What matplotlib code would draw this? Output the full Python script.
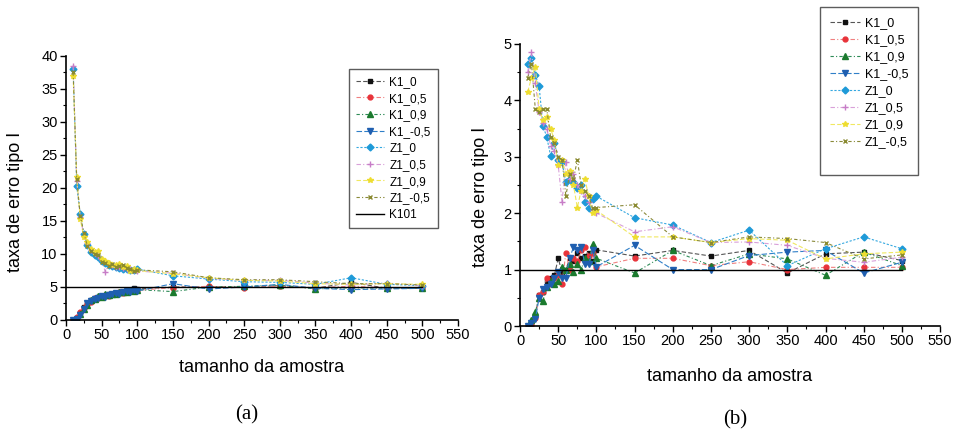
import matplotlib
matplotlib.use("Agg")
import matplotlib.pyplot as plt
from matplotlib.lines import Line2D
from matplotlib.ticker import MultipleLocator

plt.rcParams['font.family'] = ['Liberation Sans', 'DejaVu Sans']

# sample sizes
n = [10, 15, 20, 25, 30, 35, 40, 45, 50, 55, 60, 65, 70, 75, 80, 85, 90, 95, 100,
     150, 200, 250, 300, 350, 400, 450, 500]

labels = ['K1_0', 'K1_0,5', 'K1_0,9', 'K1_-0,5', 'Z1_0', 'Z1_0,5', 'Z1_0,9', 'Z1_-0,5']

# (a) nivel 5%
a_k1_0 = [0.0, 0.3, 1.1, 1.9, 2.5, 3.0, 3.3, 3.5, 3.7, 3.7, 3.9, 4.0, 4.1, 4.1, 4.3, 4.4, 4.5, 4.8, 4.7,
          5.0, 5.0, 5.0, 5.2, 4.8, 5.7, 4.8, 4.8]
a_k1_05 = [0.0, 0.4, 1.2, 1.8, 2.4, 2.8, 3.4, 3.3, 3.6, 3.8, 3.7, 3.9, 4.0, 4.2, 4.1, 4.3, 4.4, 4.6, 4.5,
           4.9, 5.1, 4.9, 5.1, 4.9, 5.1, 4.9, 4.9]
a_k1_09 = [0.0, 0.2, 0.9, 1.7, 2.3, 3.1, 3.2, 3.6, 3.5, 3.9, 3.8, 4.0, 3.9, 4.2, 4.3, 4.2, 4.5, 4.4, 4.6,
           4.3, 5.0, 5.1, 5.3, 4.7, 4.9, 4.8, 4.9]
a_k1_m05 = [0.0, 0.1, 0.8, 1.6, 2.6, 2.9, 3.2, 3.4, 3.6, 3.5, 3.8, 3.9, 4.1, 4.0, 4.2, 4.4, 4.3, 4.5, 4.4,
            5.5, 4.7, 5.0, 5.4, 4.8, 4.6, 4.7, 4.8]
a_z1_0 = [38.0, 20.3, 16.0, 13.0, 11.4, 10.3, 9.8, 9.5, 8.9, 8.6, 8.4, 8.2, 8.0, 7.9, 7.8, 7.8, 7.6, 7.5, 7.7,
          6.7, 6.2, 5.8, 5.7, 5.4, 6.4, 5.4, 5.2]
a_z1_05 = [38.5, 21.0, 15.6, 12.8, 11.6, 10.6, 10.1, 9.7, 9.1, 7.3, 8.5, 8.3, 8.1, 8.0, 7.9, 7.7, 7.7, 7.6, 7.4,
           7.1, 6.3, 6.0, 6.0, 5.6, 5.3, 5.6, 5.2]
a_z1_09 = [37.0, 21.6, 15.3, 12.5, 11.8, 10.8, 10.3, 10.4, 9.2, 8.9, 8.6, 8.4, 8.3, 8.5, 8.1, 8.2, 7.4, 7.8, 7.5,
           7.0, 6.4, 6.0, 5.9, 5.5, 5.4, 5.5, 5.4]
a_z1_m05 = [37.5, 21.3, 15.8, 13.2, 11.2, 10.5, 10.0, 9.9, 8.8, 8.7, 8.2, 8.5, 8.0, 8.2, 8.4, 7.9, 7.8, 7.4, 7.6,
            7.3, 6.4, 6.1, 6.1, 5.8, 5.5, 5.5, 5.3]

# (b) nivel 1%
b_k1_0 = [0.0, 0.05, 0.2, 0.55, 0.6, 0.8, 0.85, 0.9, 1.2, 0.95, 1.0, 1.2, 1.15, 1.3, 1.2, 1.25, 1.3, 1.15, 1.35,
          1.24, 1.34, 1.24, 1.34, 0.94, 1.28, 1.31, 1.16]
b_k1_05 = [0.0, 0.02, 0.15, 0.55, 0.6, 0.85, 0.75, 0.85, 0.9, 0.75, 1.3, 1.0, 1.2, 1.15, 1.35, 1.4, 1.25, 1.3, 1.05,
           1.2, 1.2, 1.07, 1.14, 1.0, 1.04, 1.04, 1.04]
b_k1_09 = [0.0, 0.1, 0.25, 0.5, 0.45, 0.7, 0.8, 0.75, 0.8, 1.05, 1.0, 1.1, 0.95, 1.1, 1.0, 1.2, 1.15, 1.45, 1.2,
           0.94, 1.34, 1.07, 1.28, 1.19, 0.9, 1.31, 1.07]
b_k1_m05 = [0.0, 0.05, 0.12, 0.5, 0.65, 0.7, 0.75, 0.85, 0.95, 0.85, 0.85, 1.2, 1.4, 1.35, 1.4, 1.1, 1.1, 1.35, 1.05,
            1.43, 1.0, 1.0, 1.25, 1.31, 1.34, 0.94, 1.13]
b_z1_0 = [4.65, 4.75, 4.45, 4.25, 3.55, 3.35, 3.02, 3.25, 2.95, 2.9, 2.55, 2.6, 2.55, 2.45, 2.5, 2.2, 2.1, 2.25, 2.3,
          1.92, 1.79, 1.48, 1.7, 1.07, 1.37, 1.58, 1.37]
b_z1_05 = [4.5, 4.85, 4.3, 3.8, 3.6, 3.5, 3.2, 3.1, 2.85, 2.2, 2.9, 2.6, 2.7, 2.5, 2.4, 2.3, 2.2, 2.05, 2.0,
           1.67, 1.76, 1.48, 1.49, 1.43, 1.2, 1.13, 1.22]
b_z1_09 = [4.15, 4.4, 4.6, 3.85, 3.65, 3.7, 3.5, 3.3, 2.85, 2.95, 2.7, 2.75, 2.5, 2.1, 2.4, 2.6, 2.3, 2.0, 2.05,
           1.58, 1.58, 1.48, 1.55, 1.52, 1.19, 1.28, 1.31]
b_z1_m05 = [4.4, 4.65, 3.85, 3.8, 3.85, 3.85, 3.35, 3.25, 3.0, 2.95, 2.3, 2.7, 2.6, 2.95, 2.5, 2.4, 2.3, 2.1, 2.1,
            2.15, 1.58, 1.48, 1.58, 1.55, 1.48, 1.19, 1.26]

# reference lines (K101)
ref_x = [0, 500]
ref_a = [5, 5]
ref_b = [1, 1]

series_a = [a_k1_0, a_k1_05, a_k1_09, a_k1_m05, a_z1_0, a_z1_05, a_z1_09, a_z1_m05]
series_b = [b_k1_0, b_k1_05, b_k1_09, b_k1_m05, b_z1_0, b_z1_05, b_z1_09, b_z1_m05]

styles = [
    dict(color='#555555', mfc='#111111', mec='#111111', marker='s', ls=(0, (4, 2)), ms=3.5),
    dict(color='#f08080', mfc='#e8333a', mec='#e8333a', marker='o', ls=(0, (4, 2, 1, 2)), ms=3.5),
    dict(color='#2e8b57', mfc='#1b7a2e', mec='#1b7a2e', marker='^', ls=(0, (3, 2, 1, 2)), ms=4),
    dict(color='#2f7fc8', mfc='#1f5fb0', mec='#1f5fb0', marker='v', ls=(0, (5, 2)), ms=4),
    dict(color='#35a8e0', mfc='#1e9ad8', mec='#1e9ad8', marker='D', ls=(0, (2, 1.5)), ms=3.5),
    dict(color='#d9a0d9', mfc='#c77dc7', mec='#c77dc7', marker='+', ls=(0, (4, 2, 1, 2)), ms=4),
    dict(color='#f0e860', mfc='#eedd30', mec='#eedd30', marker='*', ls=(0, (4, 2)), ms=4),
    dict(color='#8a8a3a', mfc='#8a8a30', mec='#8a8a30', marker='x', ls=(0, (3, 2, 1, 2)), ms=3.5),
]

fig = plt.figure(figsize=(9.57, 4.33), dpi=100)
ax1 = fig.add_axes([0.069, 0.261, 0.4096, 0.6097])
ax2 = fig.add_axes([0.5434, 0.2471, 0.4389, 0.6513])


def style_axes(ax):
    for s in ['top', 'right']:
        ax.spines[s].set_visible(False)
    for s in ['left', 'bottom']:
        ax.spines[s].set_linewidth(1.2)
    ax.tick_params(which='major', direction='out', length=4, width=1, labelsize=10.5, pad=2)
    ax.tick_params(which='minor', direction='out', length=2.5, width=0.8)
    ax.set_xlim(0, 550)
    ax.xaxis.set_major_locator(MultipleLocator(50))
    ax.xaxis.set_minor_locator(MultipleLocator(25))


handles = []
for lab, ys, st in zip(labels, series_a, styles):
    h, = ax1.plot(n, ys, lw=0.8, label=lab, **st)
    handles.append(h)
hk, = ax1.plot(ref_x, ref_a, color='black', lw=1.0, label='K101')
handles.append(hk)

for lab, ys, st in zip(labels, series_b, styles):
    ax2.plot(n, ys, lw=0.8, label=lab, **st)
ax2.plot(ref_x, ref_b, color='black', lw=1.0)

style_axes(ax1)
ax1.set_ylim(0, 40)
ax1.yaxis.set_major_locator(MultipleLocator(5))
ax1.yaxis.set_minor_locator(MultipleLocator(2.5))

style_axes(ax2)
ax2.set_ylim(0, 5)
ax2.yaxis.set_major_locator(MultipleLocator(1))
ax2.yaxis.set_minor_locator(MultipleLocator(0.5))

for ax in (ax1, ax2):
    ax.set_xlabel('tamanho da amostra', fontsize=13)
    ax.set_ylabel('taxa de erro tipo I', fontsize=13)
ax1.xaxis.set_label_coords(0.5, -0.148)
ax2.xaxis.set_label_coords(0.5, -0.149)
ax1.yaxis.set_label_coords(-0.107, 0.447)
ax2.yaxis.set_label_coords(-0.075, 0.457)

leg1 = ax1.legend(handles=handles, loc='upper left', bbox_to_anchor=(0.722, 0.951),
                  fontsize=8.5, handlelength=2.4, labelspacing=0.39, borderpad=0.6,
                  handletextpad=0.4, fancybox=False, frameon=True, borderaxespad=0)
leg1.get_frame().set_edgecolor('#333333')
leg1.get_frame().set_linewidth(1.0)

blank = Line2D([], [], color='none')
h2, l2 = ax2.get_legend_handles_labels()
leg2 = ax2.legend(handles=h2 + [blank], labels=l2 + [''], loc='upper left',
                  bbox_to_anchor=(0.714, 1.131), fontsize=9, handlelength=2.4,
                  labelspacing=0.4, borderpad=0.8, handletextpad=0.4,
                  fancybox=False, frameon=True, borderaxespad=0)
leg2.get_frame().set_edgecolor('#333333')
leg2.get_frame().set_linewidth(1.0)

fig.text(247 / 957, 1 - 415 / 433, '(a)', fontsize=15, family='Liberation Serif',
         ha='center', va='center')
fig.text(735 / 957, 1 - 420 / 433, '(b)', fontsize=15, family='Liberation Serif',
         ha='center', va='center')

fig.savefig('out.png', dpi=100)
